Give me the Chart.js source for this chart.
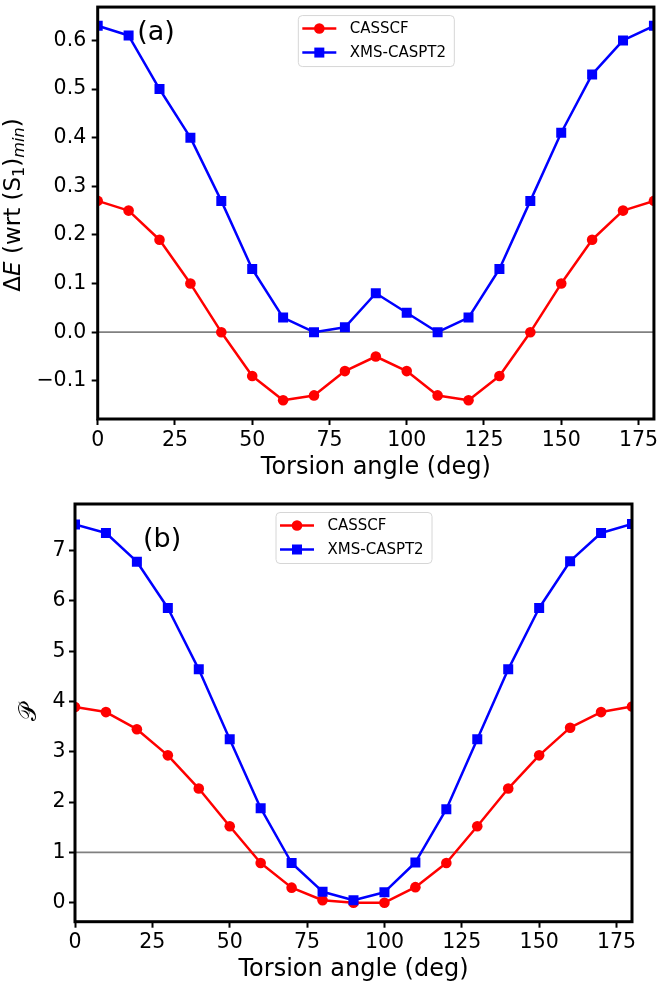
<!DOCTYPE html>
<html><head><meta charset="utf-8">
<script src="https://cdn.jsdelivr.net/npm/chart.js@4.4.1/dist/chart.umd.min.js"></script>
<style>
html,body{margin:0;padding:0;background:#fff;width:661px;height:985px;overflow:hidden;}
canvas{position:absolute;left:0;}
</style></head><body>
<canvas id="cTop" width="661" height="490" style="top:0px"></canvas>
<canvas id="cBot" width="661" height="495" style="top:490px"></canvas>
<script>
// ---- data ----
const angles   = [0,10,20,30,40,50,60,70,80,90,100,110,120,130,140,150,160,170,180];
const casscfDE = [0.27,0.25,0.19,0.10,0.00,-0.09,-0.14,-0.13,-0.08,-0.05,-0.08,-0.13,-0.14,-0.09,0.00,0.10,0.19,0.25,0.27];
const xmsDE    = [0.63,0.61,0.50,0.40,0.27,0.13,0.03,0.00,0.01,0.08,0.04,0.00,0.03,0.13,0.27,0.41,0.53,0.60,0.63];
const casscfP  = [3.89,3.79,3.45,2.93,2.27,1.52,0.79,0.30,0.05,0.00,0.00,0.31,0.79,1.52,2.27,2.93,3.48,3.79,3.90];
const xmsP     = [7.52,7.35,6.78,5.86,4.64,3.25,1.88,0.79,0.22,0.05,0.21,0.80,1.86,3.25,4.64,5.86,6.79,7.35,7.53];
const seriesNames = ['CASSCF','XMS-CASPT2'];
const xTicks   = [0,25,50,75,100,125,150,175];
const yTicksDE = [-0.1,0.0,0.1,0.2,0.3,0.4,0.5,0.6];
const yTicksP  = [0,1,2,3,4,5,6,7];
const xRange   = [0,180];
const yRangeDE = [-0.1785,0.6685];
const yRangeP  = [-0.377,7.927];
const refDE = 0, refP = 1;

const FONT = 'DejaVu Sans';
const RED = '#ff0000', BLUE = '#0000ff';

function series(xs, ys){ return xs.map((x,i)=>({x:x, y:ys[i]})); }

function drawLegend(ctx, ca, dsets){
  const w = 156, h = 51;
  const lx = (ca.left+ca.right)/2 - w/2, ly = ca.top + 8;
  ctx.save();
  ctx.beginPath();
  if (ctx.roundRect) ctx.roundRect(lx+0.5, ly+0.5, w, h, 4); else ctx.rect(lx+0.5, ly+0.5, w, h);
  ctx.fillStyle = 'rgba(255,255,255,0.8)'; ctx.fill();
  ctx.strokeStyle = '#d6d6d6'; ctx.lineWidth = 1; ctx.stroke();
  dsets.forEach((d,i)=>{
    const cy = ly + 13.5 + i*24;
    ctx.strokeStyle = d.borderColor; ctx.lineWidth = 2.5;
    ctx.beginPath(); ctx.moveTo(lx+4.5, cy); ctx.lineTo(lx+38.5, cy); ctx.stroke();
    ctx.fillStyle = d.borderColor;
    const mx = lx+21.5;
    if (d.pointStyle === 'rect'){ ctx.fillRect(mx-5, cy-5, 10, 10); }
    else { ctx.beginPath(); ctx.arc(mx, cy, 5.3, 0, Math.PI*2); ctx.fill(); }
    ctx.fillStyle = '#000'; ctx.font = '15px "'+FONT+'"'; ctx.textBaseline = 'middle'; ctx.textAlign='left';
    ctx.fillText(d.label, lx+52, cy+1);
  });
  ctx.restore();
}

function drawSegments(ctx, segs, cx, baseX, size){
  // segs: [text, italic, sub]
  ctx.save();
  ctx.translate(baseX, cx);
  ctx.rotate(-Math.PI/2);
  let total = 0;
  const fontOf = s => (s[1]?'italic ':'') + (s[2]? size*0.7 : size) + 'px "'+FONT+'"';
  segs.forEach(s=>{ ctx.font = fontOf(s); total += ctx.measureText(s[0]).width; });
  let x = -total/2;
  ctx.fillStyle = '#000'; ctx.textBaseline = 'alphabetic'; ctx.textAlign = 'left';
  segs.forEach(s=>{ ctx.font = fontOf(s); ctx.fillText(s[0], x, s[2]? size*0.2 : 0); x += ctx.measureText(s[0]).width; });
  ctx.restore();
}

function makeChart(id, cfg){
  const frame = {
    id:'frame',
    afterDraw(chart){
      const ctx = chart.ctx, ca = chart.chartArea;
      ctx.save();
      ctx.strokeStyle = '#000'; ctx.lineWidth = 3;
      ctx.strokeRect(ca.left, ca.top, ca.right-ca.left, ca.bottom-ca.top);
      ctx.fillStyle = '#000'; ctx.font = '27px "'+FONT+'"'; ctx.textBaseline='middle'; ctx.textAlign='left';
      ctx.fillText(cfg.panel, ca.left+cfg.panelDx, ca.top+cfg.panelDy);
      ctx.restore();
      drawLegend(ctx, ca, chart.data.datasets.filter(d=>d.label));
      cfg.yTitle(ctx, ca);
    }
  };
  return new Chart(document.getElementById(id), {
    type:'line',
    data:{ datasets:[
      {label:seriesNames[0], data:series(angles,cfg.cas), borderColor:RED, backgroundColor:RED, borderWidth:2.5,
       pointStyle:'circle', pointRadius:5.3, pointBorderWidth:0, pointBackgroundColor:RED, tension:0, clip:0, order:1, borderJoinStyle:'round'},
      {label:seriesNames[1], data:series(angles,cfg.xms), borderColor:BLUE, backgroundColor:BLUE, borderWidth:2.5,
       pointStyle:'rect', pointRadius:7.07, pointBorderWidth:0, pointBackgroundColor:BLUE, tension:0, clip:0, order:0, borderJoinStyle:'round'},
      {label:'', data:[{x:xRange[0],y:cfg.ref},{x:xRange[1],y:cfg.ref}], borderColor:'#808080', borderWidth:1.8,
       pointRadius:0, clip:0, order:5}
    ]},
    options:{
      responsive:false, animation:false, devicePixelRatio:1,
      layout:{padding:{top:cfg.padTop, right:cfg.padRight, left:0, bottom:0}},
      plugins:{legend:{display:false}, tooltip:{enabled:false}},
      scales:{
        x:{type:'linear', min:xRange[0], max:xRange[1],
           afterBuildTicks:s=>{ s.ticks = xTicks.map(v=>({value:v})); },
           afterFit:s=>{ s.height = cfg.xH; s.paddingLeft = 0; s.paddingRight = 0; },
           grid:{display:true, drawOnChartArea:false, drawTicks:true, tickLength:6, tickWidth:2, tickColor:'#000'},
           border:{display:false},
           ticks:{font:{family:FONT, size:20.5}, color:'#000', padding:cfg.xPad, maxRotation:0, autoSkip:false, callback:v=>String(v)},
           title:{display:true, text:'Torsion angle (deg)', color:'#000', font:{family:FONT, size:24}, padding:{top:0, bottom:cfg.titlePad}}
        },
        y:{type:'linear', min:cfg.yRange[0], max:cfg.yRange[1],
           afterBuildTicks:s=>{ s.ticks = cfg.yTicks.map(v=>({value:v})); },
           afterFit:s=>{ s.width = cfg.yW; s.paddingTop = 0; s.paddingBottom = 0; },
           grid:{display:true, drawOnChartArea:false, drawTicks:true, tickLength:6, tickWidth:2, tickColor:'#000'},
           border:{display:false},
           ticks:{font:{family:FONT, size:20.5}, color:'#000', padding:cfg.yPad, autoSkip:false, callback:cfg.yFmt}
        }
      }
    },
    plugins:[frame]
  });
}

makeChart('cTop', {
  cas:casscfDE, xms:xmsDE, ref:refDE, yRange:yRangeDE, yTicks:yTicksDE,
  yFmt:v=>v.toFixed(1).replace('-','\u2212'),
  padTop:3, padRight:5.3, xH:71, yW:97.7, xPad:3, yPad:5.5, titlePad:8,
  panel:'(a)', panelDx:39.5, panelDy:25.5,
  yTitle:(ctx, ca)=>{
    drawSegments(ctx, [['\u0394',false,false],['E',true,false],[' (wrt (S',false,false],['1',false,true],[')',false,false],['min',true,true],[')',false,false]], 205, 19.5, 23);
  }
});
makeChart('cBot', {
  cas:casscfP, xms:xmsP, ref:refP, yRange:yRangeP, yTicks:yTicksP,
  yFmt:v=>String(v),
  padTop:14, padRight:29, xH:63.3, yW:75, xPad:3, yPad:3.5, titlePad:1,
  panel:'(b)', panelDx:68, panelDy:36,
  yTitle:(ctx, ca)=>{
    drawSegments(ctx, [['\uD835\uDCAB',false,false]], (ca.top+ca.bottom)/2, 36, 24);
  }
});
</script>
</body></html>
